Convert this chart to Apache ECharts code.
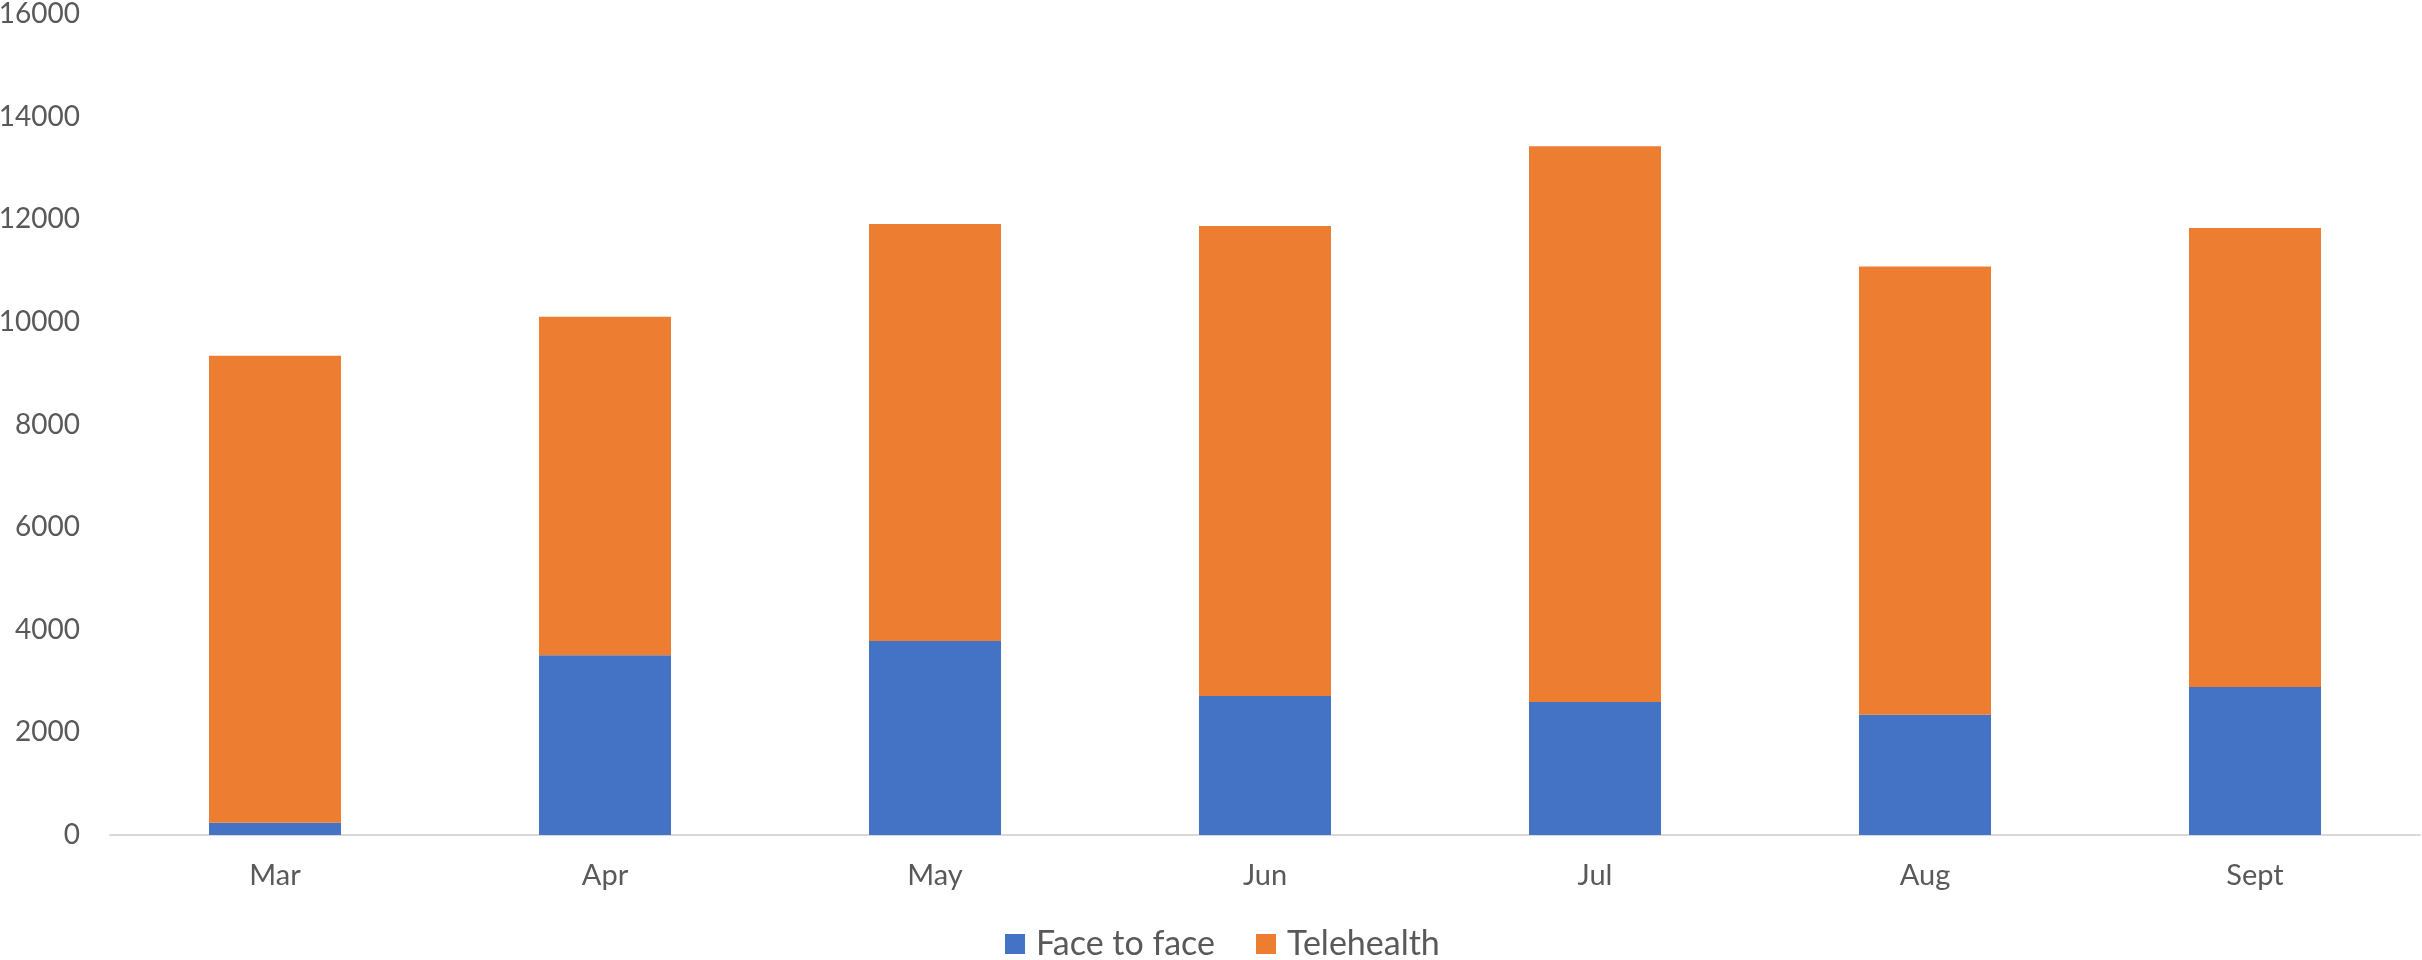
<!DOCTYPE html>
<html>
<head>
<meta charset="utf-8">
<script src="https://cdn.jsdelivr.net/npm/echarts@6/dist/echarts.min.js"></script>
<style>
  html, body { margin: 0; padding: 0; background: #fff; }
  #chart { width: 2422px; height: 960px; }
</style>
</head>
<body>
<div id="chart"></div>
<script>
// data
const months = ["Mar", "Apr", "May", "Jun", "Jul", "Aug", "Sept"];
const faceToFace = [240, 3505, 3780, 2710, 2590, 2345, 2885];
const telehealth = [9100, 6595, 8125, 9160, 10835, 8735, 8945];
const yTicks = [0, 2000, 4000, 6000, 8000, 10000, 12000, 14000, 16000];

const font = "Lato, 'Open Sans', sans-serif";
const chart = echarts.init(document.getElementById("chart"));

chart.setOption({
  animation: false,
  color: ["#4472C4", "#ED7D31"],
  grid: {
    left: 110, right: 2, top: 14, bottom: 125,
    containLabel: false,
    outerBoundsMode: "none"
  },
  legend: {
    data: ["Face to face", "Telehealth"],
    left: 1000,
    top: 922,
    icon: "rect",
    itemWidth: 20,
    itemHeight: 20,
    itemGap: 41,
    textStyle: {
      color: "#595959",
      fontSize: 34,
      fontFamily: font,
      padding: [0, 0, 0, 6]
    }
  },
  xAxis: {
    type: "category",
    data: months,
    axisLine: { lineStyle: { color: "#d9d9d9", width: 2 } },
    axisTick: { show: false },
    axisLabel: { color: "#595959", fontSize: 29, fontFamily: font, margin: 26 }
  },
  yAxis: {
    type: "value",
    min: yTicks[0],
    max: yTicks[yTicks.length - 1],
    interval: 2000,
    axisLine: { show: false },
    axisTick: { show: false },
    splitLine: { show: false },
    axisLabel: {
      color: "#595959",
      fontSize: 28,
      fontFamily: font,
      margin: 30,
      formatter: v => String(v)
    }
  },
  series: [
    {
      name: "Face to face",
      type: "bar",
      stack: "total",
      barWidth: "40%",
      data: faceToFace
    },
    {
      name: "Telehealth",
      type: "bar",
      stack: "total",
      barWidth: "40%",
      data: telehealth
    }
  ]
});
</script>
</body>
</html>
